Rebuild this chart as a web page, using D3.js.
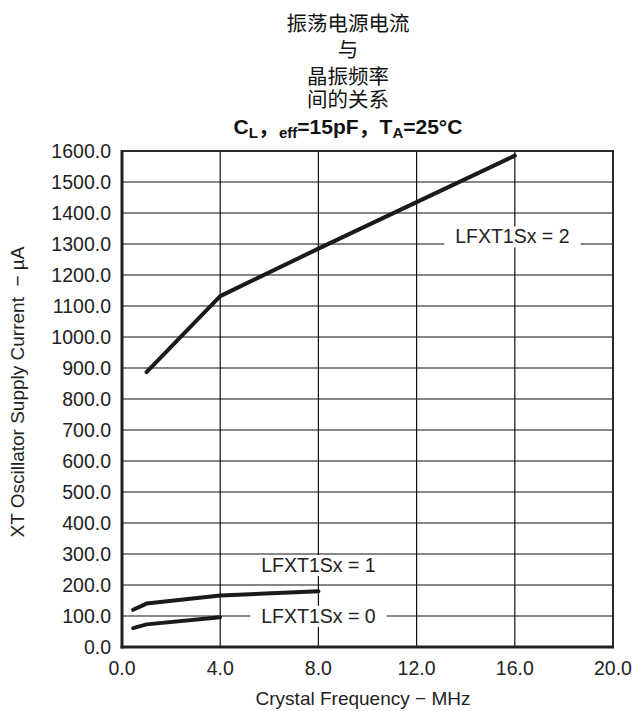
<!DOCTYPE html>
<html>
<head>
<meta charset="utf-8">
<script src="https://cdn.jsdelivr.net/npm/d3@7"></script>
<style>
  body { margin: 0; background: #fff; }
  text { font-family: "Liberation Sans", Arial, sans-serif; fill: #222; }
  .cjk { font-family: "Noto Sans CJK SC", sans-serif; }
</style>
</head>
<body>
<script>
// chart data
var xTicks = [0, 4, 8, 12, 16, 20];
var yTicks = [0, 100, 200, 300, 400, 500, 600, 700, 800, 900, 1000, 1100, 1200, 1300, 1400, 1500, 1600];

var freq2 = [1, 4, 8, 12, 16];
var curr2 = [887, 1132, 1285, 1435, 1585];
var freq1 = [0.455, 1, 4, 8];
var curr1 = [120, 140, 166, 180];
var freq0 = [0.455, 1, 4];
var curr0 = [61, 73, 96];

var seriesNames = ["LFXT1Sx = 2", "LFXT1Sx = 1", "LFXT1Sx = 0"];
// where each series label sits (data units, text centre / baseline)
var labelFreq = [15.9, 8.0, 8.0];
var labelCurr = [1302, 242, 78];

var titleLines = ["振荡电源电流", "与", "晶振频率", "间的关系"];

var width = 636, height = 711;
var margin = {top: 151, right: 23, bottom: 64, left: 122};
var w = width - margin.left - margin.right,
    h = height - margin.top - margin.bottom;

var x = d3.scaleLinear().domain([0, 20]).range([0, w]);
var y = d3.scaleLinear().domain([0, 1600]).range([h, 0]);

var svgRoot = d3.select("body").append("svg")
    .attr("width", width)
    .attr("height", height);

var svg = svgRoot.append("g")
    .attr("transform", "translate(" + margin.left + "," + margin.top + ")");

// grid
svg.append("g")
    .selectAll("line")
    .data(yTicks)
    .enter()
    .append("line")
    .attr("x1", 0).attr("x2", w)
    .attr("y1", function(d) { return y(d); })
    .attr("y2", function(d) { return y(d); })
    .attr("stroke", "#111")
    .attr("stroke-width", 1.2);

svg.append("g")
    .selectAll("line")
    .data(xTicks)
    .enter()
    .append("line")
    .attr("y1", 0).attr("y2", h)
    .attr("x1", function(d) { return x(d); })
    .attr("x2", function(d) { return x(d); })
    .attr("stroke", "#111")
    .attr("stroke-width", 1.2);

// series lines
var line = d3.line()
    .x(function(d) { return x(d[0]); })
    .y(function(d) { return y(d[1]); });

var series = [d3.zip(freq2, curr2), d3.zip(freq1, curr1), d3.zip(freq0, curr0)];

svg.selectAll(".series")
    .data(series)
    .enter()
    .append("path")
    .attr("class", "series")
    .attr("fill", "none")
    .attr("stroke", "#1a1a1a")
    .attr("stroke-width", 4)
    .attr("stroke-linejoin", "round")
    .attr("stroke-linecap", "round")
    .attr("d", line);

// series labels on white boxes
var labels = svg.selectAll(".lbl")
    .data(seriesNames)
    .enter()
    .append("g")
    .attr("class", "lbl");

labels.append("text")
    .attr("x", function(d, i) { return x(labelFreq[i]); })
    .attr("y", function(d, i) { return y(labelCurr[i]); })
    .attr("text-anchor", "middle")
    .style("font-size", "19.5px")
    .text(function(d) { return d; });

labels.each(function() {
    var g = d3.select(this);
    var b = g.select("text").node().getBBox();
    g.insert("rect", "text")
        .attr("x", b.x - 11)
        .attr("y", b.y + 1)
        .attr("width", b.width + 22)
        .attr("height", b.height - 1)
        .attr("fill", "#fff");
});

// frame
svg.append("rect")
    .attr("x", 0).attr("y", 0)
    .attr("width", w).attr("height", h)
    .attr("fill", "none")
    .attr("stroke", "#2a2a2a")
    .attr("stroke-width", 2);
svg.append("line")
    .attr("x1", 0).attr("x2", 0).attr("y1", -1).attr("y2", h + 1.5)
    .attr("stroke", "#222").attr("stroke-width", 3);
svg.append("line")
    .attr("x1", -1.5).attr("x2", w + 1).attr("y1", h).attr("y2", h)
    .attr("stroke", "#222").attr("stroke-width", 3);

// tick labels
svg.append("g")
    .selectAll("text")
    .data(yTicks)
    .enter()
    .append("text")
    .attr("x", -11)
    .attr("y", function(d) { return y(d); })
    .attr("dy", "0.36em")
    .attr("text-anchor", "end")
    .style("font-size", "19.5px")
    .text(function(d) { return d3.format(".1f")(d); });

svg.append("g")
    .selectAll("text")
    .data(xTicks)
    .enter()
    .append("text")
    .attr("x", function(d) { return x(d); })
    .attr("y", h + 28)
    .attr("text-anchor", "middle")
    .style("font-size", "19.5px")
    .text(function(d) { return d3.format(".1f")(d); });

// axis titles
svgRoot.append("text")
    .attr("x", 363)
    .attr("y", 705)
    .attr("text-anchor", "middle")
    .style("font-size", "19px")
    .text("Crystal Frequency − MHz");

svgRoot.append("text")
    .attr("transform", "translate(24,392) rotate(-90)")
    .attr("text-anchor", "middle")
    .style("font-size", "19px")
    .attr("xml:space", "preserve")
    .text("XT Oscillator Supply Current  − µA");

// title
var titleY = [31, 57, 84, 107];
svgRoot.append("g")
    .selectAll("text")
    .data(titleLines)
    .enter()
    .append("text")
    .attr("class", "cjk")
    .attr("x", 348)
    .attr("y", function(d, i) { return titleY[i]; })
    .attr("text-anchor", "middle")
    .style("font-size", "20.5px")
    .style("fill", "#111")
    .text(function(d) { return d; });

var sub = svgRoot.append("text")
    .attr("x", 348)
    .attr("y", 134)
    .attr("text-anchor", "middle")
    .style("font-size", "21px")
    .style("font-weight", "bold")
    .style("fill", "#111");
sub.append("tspan").text("C");
sub.append("tspan").attr("dy", 4).style("font-size", "15px").text("L");
sub.append("tspan").attr("dy", -4).attr("class", "cjk").text("，");
sub.append("tspan").attr("dy", 4).style("font-size", "15px").text("eff");
sub.append("tspan").attr("dy", -4).text("=15pF");
sub.append("tspan").attr("class", "cjk").text("，");
sub.append("tspan").text("T");
sub.append("tspan").attr("dy", 4).style("font-size", "15px").text("A");
sub.append("tspan").attr("dy", -4).text("=25°C");
</script>
</body>
</html>
